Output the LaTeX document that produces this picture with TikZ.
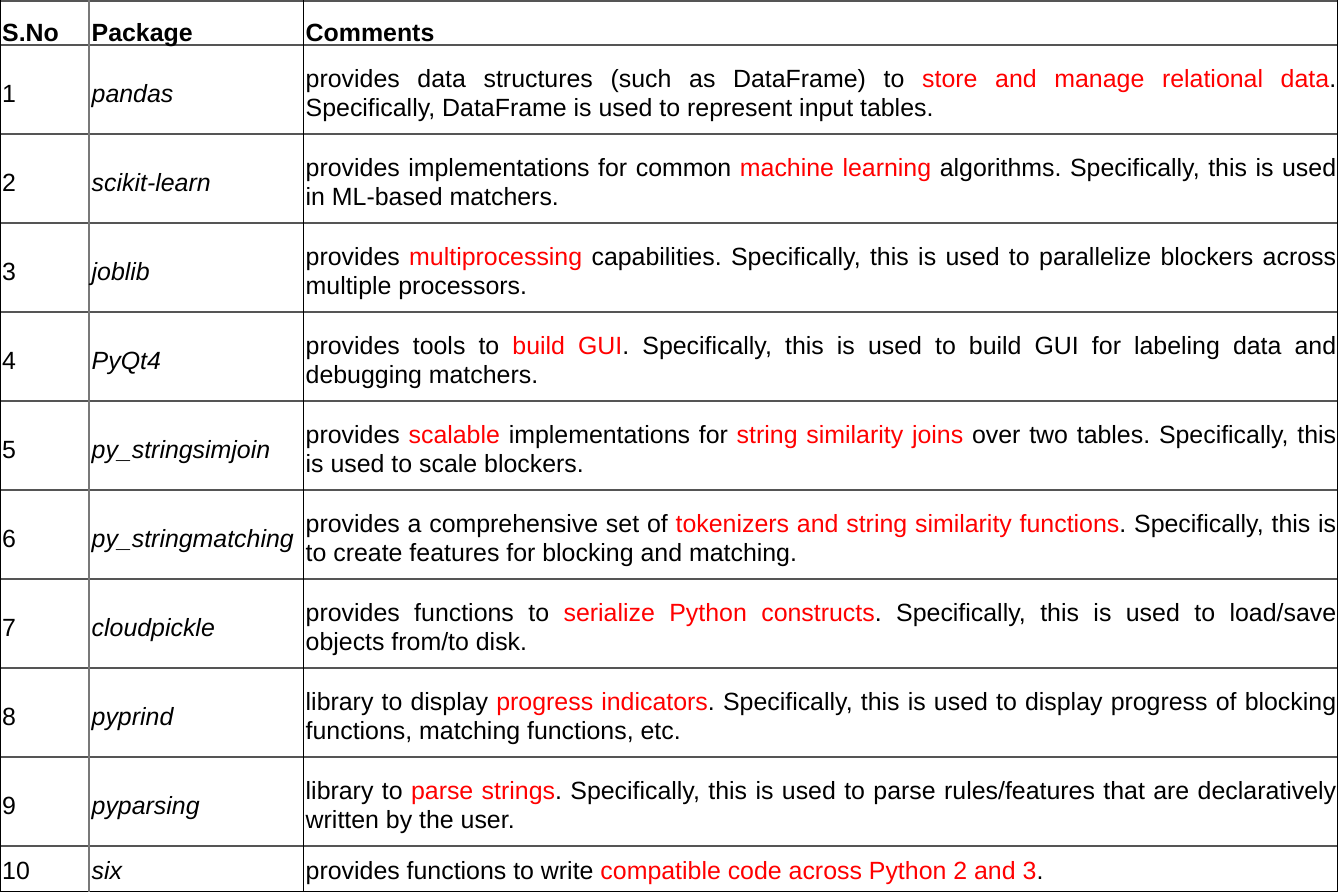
\documentclass[tikz,border=0pt]{standalone}
\usepackage{fontspec}
\setmainfont{Liberation Sans}
\definecolor{hl}{RGB}{255,0,0}
\definecolor{rule}{RGB}{85,85,85}
\definecolor{vrule}{RGB}{120,120,120}
\newcommand\fs{\fontsize{24.9pt}{29pt}\selectfont}
\newcommand\hlt[1]{\textcolor{hl}{#1}}
\newcommand\cmtbox[1]{\parbox[t]{1030.5pt}{\fs\frenchspacing #1}}
\tikzset{
  numtxt/.style={anchor=base west, inner sep=0pt, font=\fs},
  pkgtxt/.style={anchor=base west, inner sep=0pt, font=\fs\itshape},
  headtxt/.style={anchor=base west, inner sep=0pt, font=\fs\bfseries},
  cmttxt/.style={anchor=base west, inner sep=0pt},
  hline/.style={draw=rule, line width=1.6pt},
  vline/.style={draw=black, line width=1.2pt},
  vlineg/.style={draw=vrule, line width=1.6pt}
}
\begin{document}
\begin{tikzpicture}
\useasboundingbox (0pt,0pt) rectangle (1338pt,-892pt);
% grid
\foreach \y in {45,134,223,312,401,490,579,668,757,846}
  \draw[hline] (0pt,-\y pt) -- (1338pt,-\y pt);
\draw[hline] (0pt,-0.8pt) -- (1338pt,-0.8pt);
\draw[vline] (0pt,-891.2pt) -- (1338pt,-891.2pt);
\draw[vline] (0.6pt,0pt) -- (0.6pt,-892pt);
\draw[vlineg] (89pt,0pt) -- (89pt,-892pt);
\draw[vline] (303.3pt,0pt) -- (303.3pt,-892pt);
\draw[vline] (1337.2pt,0pt) -- (1337.2pt,-892pt);
% header
\node[headtxt] (h1) at (2pt,-41.5pt) {S.No};
\node[headtxt] (h2) at (91.5pt,-41.5pt) {Package};
\node[headtxt] (h3) at (305.5pt,-41.5pt) {Comments};
% rows
\node[numtxt] (n1) at (2pt,-102pt) {1};
\node[pkgtxt] (p1) at (91.5pt,-102pt) {pandas};
\node[cmttxt] (c1) at (305.5pt,-87pt) {\cmtbox{provides data structures (such as DataFrame) to \hlt{store and manage relational data}.\linebreak Specifically, DataFrame is used to represent input tables.}};

\node[numtxt] (n2) at (2pt,-191pt) {2};
\node[pkgtxt] (p2) at (91.5pt,-191pt) {scikit-learn};
\node[cmttxt] (c2) at (305.5pt,-176pt) {\cmtbox{provides implementations for common \hlt{machine learning} algorithms. Specifically, this is used\linebreak in ML-based matchers.}};

\node[numtxt] (n3) at (2pt,-280pt) {3};
\node[pkgtxt] (p3) at (91.5pt,-280pt) {joblib};
\node[cmttxt] (c3) at (305.5pt,-265pt) {\cmtbox{provides \hlt{multiprocessing} capabilities. Specifically, this is used to parallelize blockers across\linebreak multiple processors.}};

\node[numtxt] (n4) at (2pt,-369pt) {4};
\node[pkgtxt] (p4) at (91.5pt,-369pt) {PyQt4};
\node[cmttxt] (c4) at (305.5pt,-354pt) {\cmtbox{provides tools to \hlt{build GUI}. Specifically, this is used to build GUI for labeling data and\linebreak debugging matchers.}};

\node[numtxt] (n5) at (2pt,-458pt) {5};
\node[pkgtxt] (p5) at (91.5pt,-458pt) {py\_stringsimjoin};
\node[cmttxt] (c5) at (305.5pt,-443pt) {\cmtbox{provides \hlt{scalable} implementations for \hlt{string similarity joins} over two tables. Specifically, this\linebreak is used to scale blockers.}};

\node[numtxt] (n6) at (2pt,-547pt) {6};
\node[pkgtxt] (p6) at (91.5pt,-547pt) {py\_stringmatching};
\node[cmttxt] (c6) at (305.5pt,-532pt) {\cmtbox{provides a comprehensive set of \hlt{tokenizers and string similarity functions}. Specifically, this is\linebreak to create features for blocking and matching.}};

\node[numtxt] (n7) at (2pt,-636pt) {7};
\node[pkgtxt] (p7) at (91.5pt,-636pt) {cloudpickle};
\node[cmttxt] (c7) at (305.5pt,-621pt) {\cmtbox{provides functions to \hlt{serialize Python constructs}. Specifically, this is used to load/save\linebreak objects from/to disk.}};

\node[numtxt] (n8) at (2pt,-725pt) {8};
\node[pkgtxt] (p8) at (91.5pt,-725pt) {pyprind};
\node[cmttxt] (c8) at (305.5pt,-710pt) {\cmtbox{library to display \hlt{progress indicators}. Specifically, this is used to display progress of blocking\linebreak functions, matching functions, etc.}};

\node[numtxt] (n9) at (2pt,-814pt) {9};
\node[pkgtxt] (p9) at (91.5pt,-814pt) {pyparsing};
\node[cmttxt] (c9) at (305.5pt,-799pt) {\cmtbox{library to \hlt{parse strings}. Specifically, this is used to parse rules/features that are declaratively\linebreak written by the user.}};

\node[numtxt] (n10) at (2pt,-879pt) {10};
\node[pkgtxt] (p10) at (91.5pt,-879pt) {six};
\node[cmttxt] (c10) at (305.5pt,-879pt) {\cmtbox{provides functions to write \hlt{compatible code across Python 2 and 3}.}};
\end{tikzpicture}
\end{document}
